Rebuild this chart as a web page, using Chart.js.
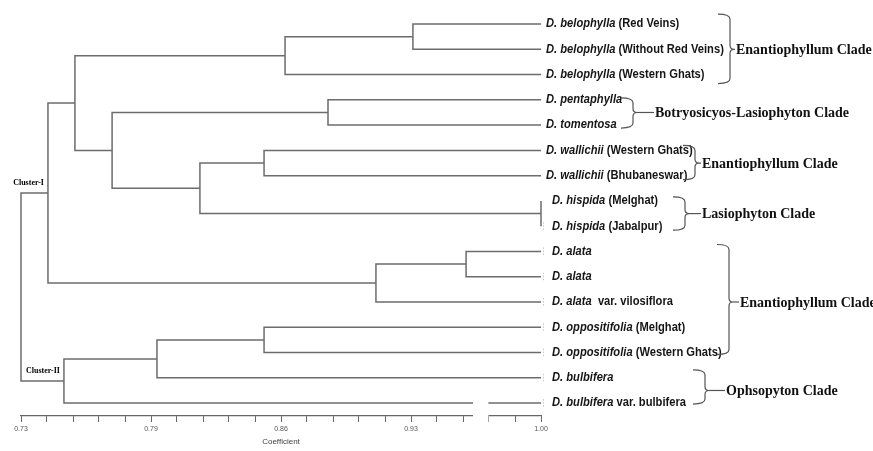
<!DOCTYPE html>
<html><head><meta charset="utf-8">
<script src="https://cdn.jsdelivr.net/npm/chart.js@4.4.1/dist/chart.umd.min.js"></script>
<style>html,body{margin:0;padding:0;background:#fff;}#wrap{width:873px;height:451px;position:relative;}</style>
</head><body><div id="wrap"><canvas id="c"></canvas></div>
<script>
// ---- data ----
const leafSpecies = ['D. belophylla','D. belophylla','D. belophylla','D. pentaphylla','D. tomentosa',
  'D. wallichii','D. wallichii','D. hispida','D. hispida','D. alata','D. alata','D. alata',
  'D. oppositifolia','D. oppositifolia','D. bulbifera','D. bulbifera'];
const leafSuffix = [' (Red Veins)',' (Without Red Veins)',' (Western Ghats)','','',
  ' (Western Ghats)',' (Bhubaneswar)',' (Melghat)',' (Jabalpur)','','','  var. vilosiflora',
  ' (Melghat)',' (Western Ghats)','',' var. bulbifera'];
// merges: node ids start at 16 in this order
const mergeLeft  = [0,16,3,5,7,19,18,17,9,24,23,12,27,28,26];
const mergeRight = [1,2,4,6,8,20,21,22,10,11,25,13,14,15,29];
const mergeHeight = [0.9335,0.8671,0.8894,0.8562,1.00,0.8229,0.7773,0.7580,0.9611,0.9143,0.7440,0.8562,0.8006,0.7523,0.73];
const leafHeight = 1.00;
const tickValues = [0.73,0.7975,0.865,0.9325,1.00];
const tickLabels = ['0.73','0.79','0.86','0.93','1.00'];
const minorPerMajor = 5;
const cladeNames = ['Enantiophyllum Clade','Botryosicyos-Lasiophyton Clade','Enantiophyllum Clade','Lasiophyton Clade','Enantiophyllum Clade','Ophsopyton Clade'];
const cladeFirst = [0,3,5,7,9,14];
const cladeLast  = [2,4,6,8,13,15];
const clusterNames = ['Cluster-I','Cluster-II'];
const clusterNodes = [26,29];
const axisBreak = [0.9647,0.9727];

// ---- build tree geometry (in data units) ----
const nLeaf = leafSpecies.length;
const nodeX = [], nodeY = [];
for (let i=0;i<nLeaf;i++){ nodeX[i]=leafHeight; nodeY[i]=i; }
mergeHeight.forEach((h,k)=>{
  const id=nLeaf+k, l=mergeLeft[k], r=mergeRight[k];
  nodeX[id]=h; nodeY[id]=(nodeY[l]+nodeY[r])/2;
});
const LINE='#6c6c6c';
const datasets = mergeHeight.map((h,k)=>{
  const l=mergeLeft[k], r=mergeRight[k];
  return {
    data:[{x:nodeX[l],y:nodeY[l]},{x:h,y:nodeY[l]},{x:h,y:nodeY[r]},{x:nodeX[r],y:nodeY[r]}],
    showLine:true, borderColor:LINE, borderWidth:1.5, pointRadius:0, pointHoverRadius:0,
    tension:0, clip:false, fill:false
  };
});
const allTicks=[];
for(let j=0;j<tickValues.length-1;j++){
  for(let s=0;s<minorPerMajor;s++){
    allTicks.push(tickValues[j]+(tickValues[j+1]-tickValues[j])*s/minorPerMajor);
  }
}
allTicks.push(tickValues[tickValues.length-1]);

const annot = {
  id:'annot',
  afterDatasetsDraw(chart,args,o){
    const ctx=chart.ctx, xs=chart.scales.x, ys=chart.scales.y;
    const x1=xs.getPixelForValue(leafHeight);
    ctx.save();
    // axis break mask
    const bx0=xs.getPixelForValue(axisBreak[0]), bx1=xs.getPixelForValue(axisBreak[1]);
    ctx.fillStyle='#fff';
    ctx.fillRect(bx0, ys.getPixelForValue(nLeaf-1)-6, bx1-bx0, chart.chartArea.bottom+9-(ys.getPixelForValue(nLeaf-1)-6));
    // faint marks at leaf tips
    ctx.strokeStyle='#c8c8c8'; ctx.lineWidth=1; ctx.setLineDash([1.5,1.5]);
    for(let i=o.markFrom;i<nLeaf;i++){
      const y=ys.getPixelForValue(i);
      ctx.beginPath(); ctx.moveTo(x1+2.5,y-4); ctx.lineTo(x1+2.5,y+4); ctx.stroke();
    }
    ctx.setLineDash([]);
    // leaf labels
    ctx.textBaseline='middle'; ctx.fillStyle='#151515';
    for(let i=0;i<nLeaf;i++){
      const y=ys.getPixelForValue(i);
      const x=x1+(i>=o.markFrom-1?o.indentB:o.indentA);
      ctx.save(); ctx.translate(x,y); ctx.scale(o.squeeze,1);
      ctx.font='italic bold 12px "Liberation Sans", Arial, sans-serif';
      ctx.fillText(leafSpecies[i],0,0);
      const w=ctx.measureText(leafSpecies[i]).width;
      ctx.font='bold 12px "Liberation Sans", Arial, sans-serif';
      ctx.fillText(leafSuffix[i],w,0);
      ctx.restore();
    }
    // brackets
    ctx.strokeStyle='#555'; ctx.lineWidth=1.2;
    cladeNames.forEach((name,c)=>{
      const yt=ys.getPixelForValue(cladeFirst[c])-o.bracketPad[c][0];
      const yb=ys.getPixelForValue(cladeLast[c])+o.bracketPad[c][1];
      const ym=(ys.getPixelForValue(cladeFirst[c])+ys.getPixelForValue(cladeLast[c]))/2;
      const bx=x1+o.bracketX[c];
      ctx.beginPath();
      ctx.moveTo(bx-o.arm,yt); ctx.quadraticCurveTo(bx,yt,bx,yt+5);
      ctx.lineTo(bx,ym-4); ctx.quadraticCurveTo(bx,ym,bx+4,ym);
      ctx.quadraticCurveTo(bx,ym,bx,ym+4);
      ctx.lineTo(bx,yb-5); ctx.quadraticCurveTo(bx,yb,bx-o.arm,yb);
      ctx.stroke();
      const lx=bx+o.labelGap[c];
      ctx.beginPath(); ctx.moveTo(bx+4,ym); ctx.lineTo(lx-1,ym); ctx.stroke();
      ctx.font='bold 14px "Liberation Serif", "Times New Roman", serif';
      ctx.fillStyle='#111';
      ctx.fillText(name,lx,ym+1);
    });
    // cluster labels
    ctx.font='bold 8px "Liberation Serif", serif'; ctx.textAlign='right'; ctx.fillStyle='#000';
    clusterNodes.forEach((id,k)=>{
      ctx.fillText(clusterNames[k], xs.getPixelForValue(nodeX[id])-4, ys.getPixelForValue(nodeY[id])-10);
    });
    ctx.restore();
  }
};

new Chart(document.getElementById('c'),{
  type:'scatter',
  data:{datasets},
  options:{
    responsive:true, maintainAspectRatio:false, animation:false,
    events:[],
    layout:{padding:{left:21,right:332,top:11.4,bottom:0}},
    plugins:{legend:{display:false},tooltip:{enabled:false},
      annot:{markFrom:8,indentA:5,indentB:11,squeeze:0.93,arm:12,
        bracketX:[189,92,154,144,188,164],
        labelGap:[6,22,7,17,11,21],
        bracketPad:[[10,9],[2,3],[5,4],[4,4],[7,2],[8,1]]}},
    scales:{
      x:{type:'linear',min:0.73,max:1.00,
        afterBuildTicks(s){ s.ticks=allTicks.map(v=>({value:v})); },
        afterFit(s){ s.height=35; },
        ticks:{autoSkip:false,maxRotation:0,padding:3,color:'#555',
          font:{family:'"Liberation Sans", Arial, sans-serif',size:7},
          callback(v,i){ return i%minorPerMajor===0 ? tickLabels[i/minorPerMajor] : ''; }},
        grid:{drawOnChartArea:false,drawTicks:true,tickLength:6,tickColor:'#666',tickWidth:1},
        border:{display:true,color:'#666',width:1.2},
        title:{display:true,text:'Coefficient',color:'#444',padding:{top:0,bottom:4},
          font:{family:'"Liberation Sans", Arial, sans-serif',size:8}}
      },
      y:{type:'linear',display:false,reverse:true,min:-0.5,max:15.51}
    }
  },
  plugins:[annot]
});
</script></body></html>
